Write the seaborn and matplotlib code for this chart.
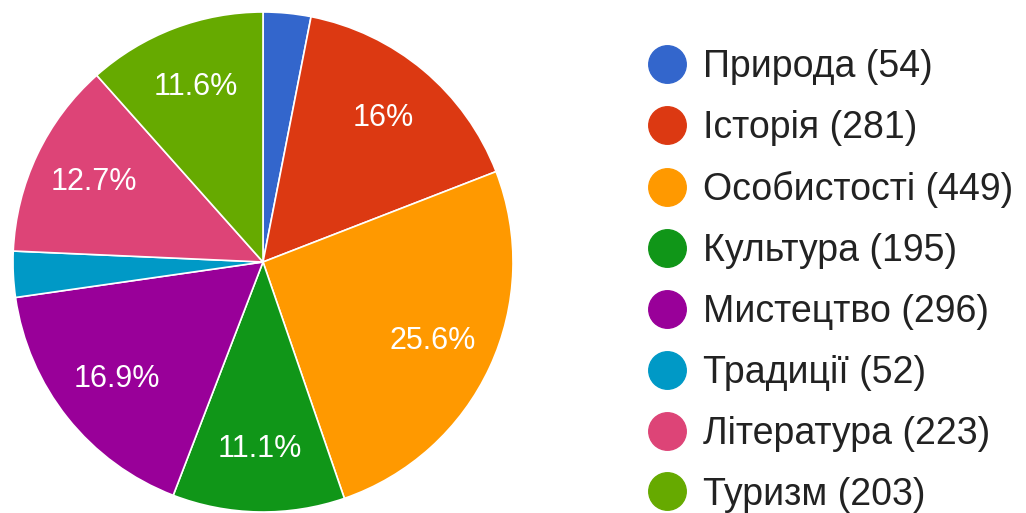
import matplotlib
matplotlib.use("Agg")
import matplotlib.pyplot as plt
from matplotlib.lines import Line2D
import seaborn as sns

categories = ["Природа", "Історія", "Особистості", "Культура", "Мистецтво", "Традиції", "Література", "Туризм"]
counts = [54, 281, 449, 195, 296, 52, 223, 203]
colors = ["#3366cc", "#dc3912", "#ff9900", "#109618", "#990099", "#0099c6", "#dd4477", "#66aa00"]

sns.set_theme(style="white")
plt.rcParams['font.family'] = ['Liberation Sans', 'DejaVu Sans']

W, H = 1026, 513
fig = plt.figure(figsize=(W / 100, H / 100), dpi=100)
fig.patch.set_facecolor("white")

cx, cy, r = 263, 262, 250
ax = fig.add_axes([(cx - r) / W, (H - cy - r) / H, 2 * r / W, 2 * r / H])
ax.set_axis_off()

def fmt(p):
    if p < 5:
        return ""
    s = f"{p:.1f}"
    if s.endswith(".0"):
        s = s[:-2]
    return s + "%"

wedges, texts, autotexts = ax.pie(
    counts, colors=colors, startangle=90, counterclock=False,
    autopct=fmt, pctdistance=0.75, radius=1.0,
    wedgeprops=dict(edgecolor="white", linewidth=1.2),
    textprops=dict(color="white", fontsize=22),
    frame=False,
)
ax.set_xlim(-1, 1)
ax.set_ylim(-1, 1)
ax.set_aspect("equal")

handles = [Line2D([0], [0], marker="o", linestyle="", markersize=27,
                  markerfacecolor=c, markeredgecolor=c) for c in colors]
labels = [f"{n} ({v})" for n, v in zip(categories, counts)]
leg = fig.legend(handles, labels, loc="upper left",
                 bbox_to_anchor=(645 / W, 1 - 49 / H),
                 frameon=False, fontsize=27, labelspacing=0.665,
                 handletextpad=0.37, handlelength=1.18, borderpad=0,
                 borderaxespad=0, labelcolor="#222222")

fig.savefig("out.png", dpi=100, facecolor="white")
